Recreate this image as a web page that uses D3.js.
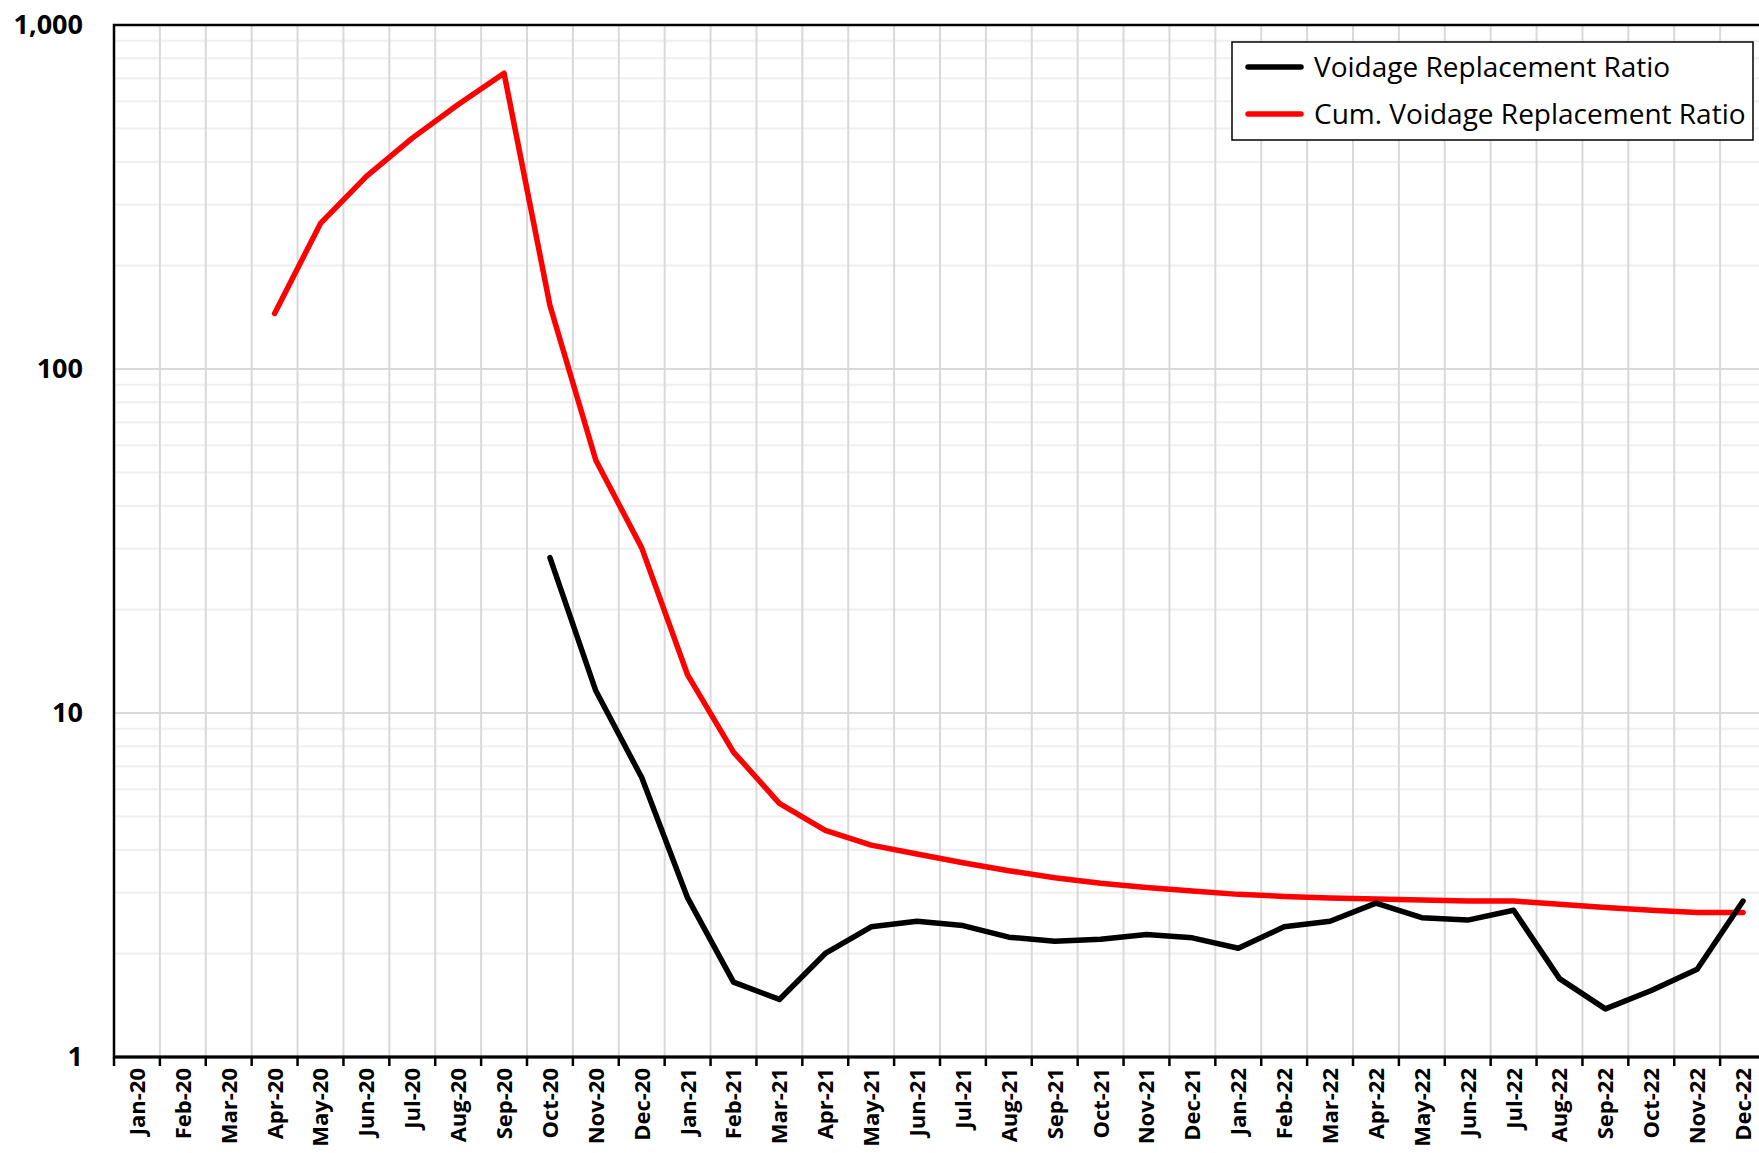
<!DOCTYPE html>
<html>
<head>
<meta charset="utf-8">
<script src="https://cdn.jsdelivr.net/npm/d3@7"></script>
<style>
  body { margin: 0; background: #fff; }
  svg { display: block; }
</style>
</head>
<body>
<div id="chart"></div>
<script>
const months = [
  'Jan-20', 'Feb-20', 'Mar-20', 'Apr-20', 'May-20', 'Jun-20', 'Jul-20', 'Aug-20', 'Sep-20', 'Oct-20', 'Nov-20', 'Dec-20',
  'Jan-21', 'Feb-21', 'Mar-21', 'Apr-21', 'May-21', 'Jun-21', 'Jul-21', 'Aug-21', 'Sep-21', 'Oct-21', 'Nov-21', 'Dec-21',
  'Jan-22', 'Feb-22', 'Mar-22', 'Apr-22', 'May-22', 'Jun-22', 'Jul-22', 'Aug-22', 'Sep-22', 'Oct-22', 'Nov-22', 'Dec-22'
];

// null = no value for that month
const vrr = [
  null, null, null, null, null, null, null, null, null, 28.3, 11.6, 6.49,
  2.90, 1.65, 1.47, 2.00, 2.39, 2.48, 2.41, 2.23, 2.17, 2.20, 2.27, 2.22,
  2.07, 2.39, 2.48, 2.80, 2.54, 2.50, 2.67, 1.69, 1.38, 1.56, 1.80, 2.84
];

const cumVrr = [
  null, null, null, 145, 265, 363, 469, 587, 724, 153, 54.3, 30.2,
  12.9, 7.7, 5.46, 4.56, 4.13, 3.89, 3.67, 3.48, 3.32, 3.20, 3.11, 3.04,
  2.97, 2.93, 2.90, 2.88, 2.86, 2.84, 2.84, 2.78, 2.72, 2.67, 2.63, 2.63
];

const yTicks = [1, 10, 100, 1000];

const seriesNames = ['Voidage Replacement Ratio', 'Cum. Voidage Replacement Ratio'];
const seriesColors = ['#000000', '#ff0000'];

const width = 1759;
const height = 1153;
const plot = { left: 114, top: 25, right: 1766, bottom: 1057 };

const svg = d3.select('#chart')
  .append('svg')
  .attr('width', width)
  .attr('height', height);

const x = d3.scaleBand()
  .domain(months)
  .range([plot.left, plot.right])
  .padding(0);

const y = d3.scaleLog()
  .domain([1, 1000])
  .range([plot.bottom, plot.top]);

// minor horizontal grid
const minor = [];
[1, 10, 100].forEach(base => {
  for (let k = 2; k <= 9; k++) minor.push(base * k);
});

svg.append('g')
  .selectAll('line')
  .data(minor)
  .join('line')
  .attr('x1', plot.left)
  .attr('x2', plot.right)
  .attr('y1', d => y(d))
  .attr('y2', d => y(d))
  .attr('stroke', '#efefef')
  .attr('stroke-width', 2);

// major horizontal grid
svg.append('g')
  .selectAll('line')
  .data([10, 100])
  .join('line')
  .attr('x1', plot.left)
  .attr('x2', plot.right)
  .attr('y1', d => y(d))
  .attr('y2', d => y(d))
  .attr('stroke', '#d9d9d9')
  .attr('stroke-width', 2);

// vertical grid at category boundaries
svg.append('g')
  .selectAll('line')
  .data(months.slice(1))
  .join('line')
  .attr('x1', d => x(d))
  .attr('x2', d => x(d))
  .attr('y1', plot.top)
  .attr('y2', plot.bottom)
  .attr('stroke', '#d9d9d9')
  .attr('stroke-width', 2);

// plot frame
svg.append('rect')
  .attr('x', plot.left)
  .attr('y', plot.top)
  .attr('width', plot.right - plot.left)
  .attr('height', plot.bottom - plot.top)
  .attr('fill', 'none')
  .attr('stroke', '#000')
  .attr('stroke-width', 2.5);

// y axis labels
const yAxis = svg.append('g')
  .attr('transform', `translate(${plot.left},0)`)
  .call(d3.axisLeft(y).tickValues(yTicks).tickFormat(d3.format(',')).tickSize(0).tickPadding(31));
yAxis.select('.domain').remove();
yAxis.selectAll('text')
  .attr('font-family', '"Open Sans", sans-serif')
  .attr('font-weight', 'bold')
  .attr('font-size', 27)
  .attr('fill', '#000');

// x axis: ticks at category boundaries, labels centred
svg.append('g')
  .selectAll('line')
  .data(months)
  .join('line')
  .attr('x1', d => x(d))
  .attr('x2', d => x(d))
  .attr('y1', plot.bottom)
  .attr('y2', plot.bottom + 9)
  .attr('stroke', '#000')
  .attr('stroke-width', 2.5);

svg.append('line')
  .attr('x1', plot.left)
  .attr('x2', plot.right)
  .attr('y1', plot.bottom)
  .attr('y2', plot.bottom)
  .attr('stroke', '#000')
  .attr('stroke-width', 3);

svg.append('g')
  .selectAll('text')
  .data(months)
  .join('text')
  .attr('transform', d => `translate(${x(d) + x.bandwidth() / 2},${plot.bottom + 11}) rotate(-90)`)
  .attr('text-anchor', 'end')
  .attr('dy', '0.36em')
  .attr('font-family', '"Open Sans", sans-serif')
  .attr('font-weight', 'bold')
  .attr('font-size', 22)
  .attr('fill', '#000')
  .text(d => d);

// series lines
const line = d3.line()
  .defined(d => d.v != null)
  .x(d => x(d.m) + x.bandwidth() / 2)
  .y(d => y(d.v));

[cumVrr, vrr].forEach((vals, i) => {
  const idx = i === 0 ? 1 : 0;
  svg.append('path')
    .datum(months.map((m, j) => ({ m, v: vals[j] })))
    .attr('d', line)
    .attr('fill', 'none')
    .attr('stroke', seriesColors[idx])
    .attr('stroke-width', 5.5)
    .attr('stroke-linejoin', 'round')
    .attr('stroke-linecap', 'round');
});

// legend
const legend = svg.append('g').attr('transform', 'translate(1232,42)');
legend.append('rect')
  .attr('width', 521)
  .attr('height', 98)
  .attr('fill', '#fff')
  .attr('stroke', '#000')
  .attr('stroke-width', 1.5);

const rows = legend.selectAll('.row')
  .data(seriesNames)
  .join('g')
  .attr('class', 'row')
  .attr('transform', (d, i) => `translate(0,${25 + i * 47})`);

rows.append('line')
  .attr('x1', 16)
  .attr('x2', 69)
  .attr('stroke', (d, i) => seriesColors[i])
  .attr('stroke-width', 5.5)
  .attr('stroke-linecap', 'round');

rows.append('text')
  .attr('x', 82)
  .attr('dy', '0.36em')
  .attr('font-family', '"Open Sans", sans-serif')
  .attr('font-size', 28)
  .attr('fill', '#000')
  .text(d => d);
</script>
</body>
</html>
